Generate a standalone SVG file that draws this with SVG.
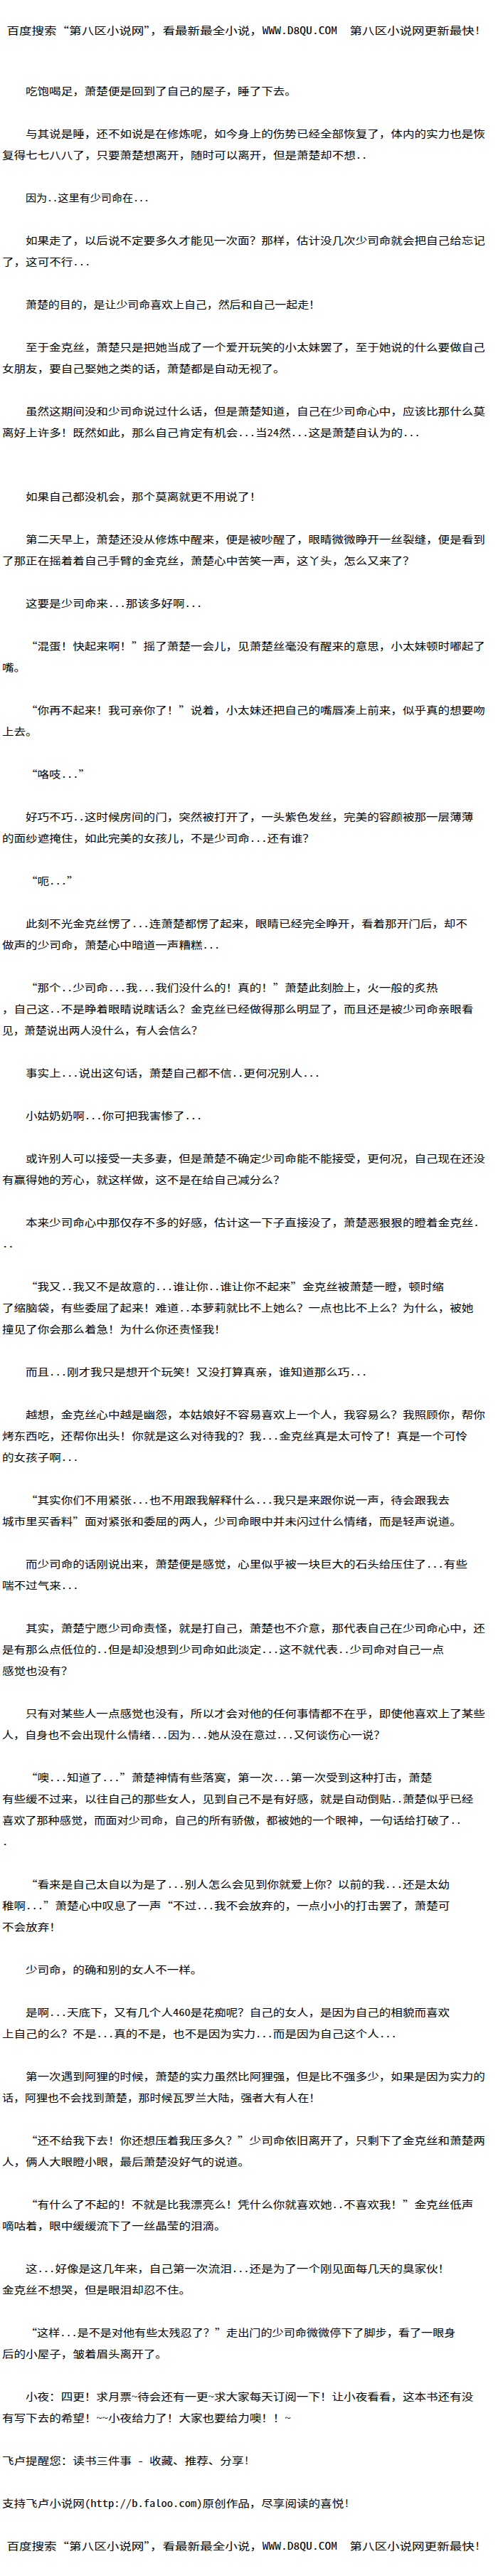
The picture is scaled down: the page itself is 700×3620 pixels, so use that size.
<svg xmlns="http://www.w3.org/2000/svg" width="700" height="3620" viewBox="0 0 700 3620">
<style>
.bg{fill:#ffffff}
.t{font-family:"Noto Sans CJK SC","Noto Sans CJK TC",sans-serif;font-size:14px;fill:#000000;white-space:pre}
.q{font-feature-settings:"fwid"}
.h{font-feature-settings:"hwid"}
</style>
<rect class="bg" x="0" y="0" width="700" height="3620"/>
<g id="header"><text class="t" x="9.5" y="48" textLength="666" lengthAdjust="spacingAndGlyphs" xml:space="preserve">百度搜索<tspan class="q">“</tspan>第八区小说网<tspan class="q">”</tspan>，看最新最全小说，<tspan class="h">WWW.D8QU.COM  </tspan>第八区小说网更新最快<tspan class="h">!</tspan></text></g>
<g id="p01"><text class="t" x="36" y="133" textLength="380.88" lengthAdjust="spacingAndGlyphs">吃饱喝足，萧楚便是回到了自己的屋子，睡了下去。</text></g>
<g id="p02">
<text class="t" x="36" y="193" textLength="645.84" lengthAdjust="spacingAndGlyphs">与其说是睡，还不如说是在修炼呢，如今身上的伤势已经全部恢复了，体内的实力也是恢</text>
<text class="t" x="3" y="223" textLength="513.36" lengthAdjust="spacingAndGlyphs">复得七七八八了，只要萧楚想离开，随时可以离开，但是萧楚却不想<tspan class="h">..</tspan></text>
</g>
<g id="p03"><text class="t" x="36" y="283" textLength="173.88" lengthAdjust="spacingAndGlyphs">因为<tspan class="h">..</tspan>这里有少司命在<tspan class="h">...</tspan></text></g>
<g id="p04">
<text class="t" x="36" y="343" textLength="645.84" lengthAdjust="spacingAndGlyphs">如果走了，以后说不定要多久才能见一次面？那样，估计没几次少司命就会把自己给忘记</text>
<text class="t" x="3" y="373" textLength="124.2" lengthAdjust="spacingAndGlyphs">了，这可不行<tspan class="h">...</tspan></text>
</g>
<g id="p05"><text class="t" x="36" y="433" textLength="414" lengthAdjust="spacingAndGlyphs">萧楚的目的，是让少司命喜欢上自己，然后和自己一起走！</text></g>
<g id="p06">
<text class="t" x="36" y="493" textLength="645.84" lengthAdjust="spacingAndGlyphs">至于金克丝，萧楚只是把她当成了一个爱开玩笑的小太妹罢了，至于她说的什么要做自己</text>
<text class="t" x="3" y="523" textLength="397.44" lengthAdjust="spacingAndGlyphs">女朋友，要自己娶她之类的话，萧楚都是自动无视了。</text>
</g>
<g id="p07">
<text class="t" x="36" y="583" textLength="645.84" lengthAdjust="spacingAndGlyphs">虽然这期间没和少司命说过什么话，但是萧楚知道，自己在少司命心中，应该比那什么莫</text>
<text class="t" x="3" y="613" textLength="587.88" lengthAdjust="spacingAndGlyphs">离好上许多！既然如此，那么自己肯定有机会<tspan class="h">...</tspan>当<tspan class="h">24</tspan>然<tspan class="h">...</tspan>这是萧楚自认为的<tspan class="h">...</tspan></text>
</g>
<g id="p08"><text class="t" x="36" y="703" textLength="331.2" lengthAdjust="spacingAndGlyphs">如果自己都没机会，那个莫离就更不用说了！</text></g>
<g id="p09">
<text class="t" x="36" y="763" textLength="645.84" lengthAdjust="spacingAndGlyphs">第二天早上，萧楚还没从修炼中醒来，便是被吵醒了，眼睛微微睁开一丝裂缝，便是看到</text>
<text class="t" x="3" y="793" textLength="579.6" lengthAdjust="spacingAndGlyphs">了那正在摇着着自己手臂的金克丝，萧楚心中苦笑一声，这丫头，怎么又来了？</text>
</g>
<g id="p10"><text class="t" x="36" y="853" textLength="248.4" lengthAdjust="spacingAndGlyphs">这要是少司命来<tspan class="h">...</tspan>那该多好啊<tspan class="h">...</tspan></text></g>
<g id="p11">
<text class="t" x="36" y="913" textLength="645.84" lengthAdjust="spacingAndGlyphs"><tspan class="q">“</tspan>混蛋！快起来啊！<tspan class="q">”</tspan>摇了萧楚一会儿，见萧楚丝毫没有醒来的意思，小太妹顿时嘟起了</text>
<text class="t" x="3" y="943" textLength="33.12" lengthAdjust="spacingAndGlyphs">嘴。</text>
</g>
<g id="p12">
<text class="t" x="36" y="1003" textLength="645.84" lengthAdjust="spacingAndGlyphs"><tspan class="q">“</tspan>你再不起来！我可亲你了！<tspan class="q">”</tspan>说着，小太妹还把自己的嘴唇凑上前来，似乎真的想要吻</text>
<text class="t" x="3" y="1033" textLength="49.68" lengthAdjust="spacingAndGlyphs">上去。</text>
</g>
<g id="p13"><text class="t" x="36" y="1093" textLength="91.08" lengthAdjust="spacingAndGlyphs"><tspan class="q">“</tspan>咯吱<tspan class="h">...</tspan><tspan class="q">”</tspan></text></g>
<g id="p14">
<text class="t" x="36" y="1153" textLength="629.28" lengthAdjust="spacingAndGlyphs">好巧不巧<tspan class="h">..</tspan>这时候房间的门，突然被打开了，一头紫色发丝，完美的容颜被那一层薄薄</text>
<text class="t" x="3" y="1183" textLength="438.84" lengthAdjust="spacingAndGlyphs">的面纱遮掩住，如此完美的女孩儿，不是少司命<tspan class="h">...</tspan>还有谁？</text>
</g>
<g id="p15"><text class="t" x="36" y="1243" textLength="74.52" lengthAdjust="spacingAndGlyphs"><tspan class="q">“</tspan>呃<tspan class="h">...</tspan><tspan class="q">”</tspan></text></g>
<g id="p16">
<text class="t" x="36" y="1303" textLength="621" lengthAdjust="spacingAndGlyphs">此刻不光金克丝愣了<tspan class="h">...</tspan>连萧楚都愣了起来，眼睛已经完全睁开，看着那开门后，却不</text>
<text class="t" x="3" y="1333" textLength="306.36" lengthAdjust="spacingAndGlyphs">做声的少司命，萧楚心中暗道一声糟糕<tspan class="h">...</tspan></text>
</g>
<g id="p17">
<text class="t" x="36" y="1393" textLength="579.6" lengthAdjust="spacingAndGlyphs"><tspan class="q">“</tspan>那个<tspan class="h">..</tspan>少司命<tspan class="h">...</tspan>我<tspan class="h">...</tspan>我们没什么的！真的！<tspan class="q">”</tspan>萧楚此刻脸上，火一般的炙热</text>
<text class="t" x="3" y="1423" textLength="662.4" lengthAdjust="spacingAndGlyphs">，自己这<tspan class="h">..</tspan>不是睁着眼睛说瞎话么？金克丝已经做得那么明显了，而且还是被少司命亲眼看</text>
<text class="t" x="3" y="1453" textLength="281.52" lengthAdjust="spacingAndGlyphs">见，萧楚说出两人没什么，有人会信么？</text>
</g>
<g id="p18"><text class="t" x="36" y="1513" textLength="414" lengthAdjust="spacingAndGlyphs">事实上<tspan class="h">...</tspan>说出这句话，萧楚自己都不信<tspan class="h">..</tspan>更何况别人<tspan class="h">...</tspan></text></g>
<g id="p19"><text class="t" x="36" y="1573" textLength="248.4" lengthAdjust="spacingAndGlyphs">小姑奶奶啊<tspan class="h">...</tspan>你可把我害惨了<tspan class="h">...</tspan></text></g>
<g id="p20">
<text class="t" x="36" y="1633" textLength="645.84" lengthAdjust="spacingAndGlyphs">或许别人可以接受一夫多妻，但是萧楚不确定少司命能不能接受，更何况，自己现在还没</text>
<text class="t" x="3" y="1663" textLength="397.44" lengthAdjust="spacingAndGlyphs">有赢得她的芳心，就这样做，这不是在给自己减分么？</text>
</g>
<g id="p21">
<text class="t" x="36" y="1723" textLength="637.56" lengthAdjust="spacingAndGlyphs">本来少司命心中那仅存不多的好感，估计这一下子直接没了，萧楚恶狠狠的瞪着金克丝<tspan class="h">.</tspan></text>
<text class="t" x="3" y="1753" textLength="16.56" lengthAdjust="spacingAndGlyphs"><tspan class="h">..</tspan></text>
</g>
<g id="p22">
<text class="t" x="36" y="1813" textLength="587.88" lengthAdjust="spacingAndGlyphs"><tspan class="q">“</tspan>我又<tspan class="h">..</tspan>我又不是故意的<tspan class="h">...</tspan>谁让你<tspan class="h">..</tspan>谁让你不起来<tspan class="q">”</tspan>金克丝被萧楚一瞪，顿时缩</text>
<text class="t" x="3" y="1843" textLength="662.4" lengthAdjust="spacingAndGlyphs">了缩脑袋，有些委屈了起来！难道<tspan class="h">..</tspan>本萝莉就比不上她么？一点也比不上么？为什么，被她</text>
<text class="t" x="3" y="1873" textLength="314.64" lengthAdjust="spacingAndGlyphs">撞见了你会那么着急！为什么你还责怪我！</text>
</g>
<g id="p23"><text class="t" x="36" y="1933" textLength="480.24" lengthAdjust="spacingAndGlyphs">而且<tspan class="h">...</tspan>刚才我只是想开个玩笑！又没打算真亲，谁知道那么巧<tspan class="h">...</tspan></text></g>
<g id="p24">
<text class="t" x="36" y="1993" textLength="645.84" lengthAdjust="spacingAndGlyphs">越想，金克丝心中越是幽怨，本姑娘好不容易喜欢上一个人，我容易么？我照顾你，帮你</text>
<text class="t" x="3" y="2023" textLength="654.12" lengthAdjust="spacingAndGlyphs">烤东西吃，还帮你出头！你就是这么对待我的？我<tspan class="h">...</tspan>金克丝真是太可怜了！真是一个可怜</text>
<text class="t" x="3" y="2053" textLength="107.64" lengthAdjust="spacingAndGlyphs">的女孩子啊<tspan class="h">...</tspan></text>
</g>
<g id="p25">
<text class="t" x="36" y="2113" textLength="596.16" lengthAdjust="spacingAndGlyphs"><tspan class="q">“</tspan>其实你们不用紧张<tspan class="h">...</tspan>也不用跟我解释什么<tspan class="h">...</tspan>我只是来跟你说一声，待会跟我去</text>
<text class="t" x="3" y="2143" textLength="645.84" lengthAdjust="spacingAndGlyphs">城市里买香料<tspan class="q">”</tspan>面对紧张和委屈的两人，少司命眼中并未闪过什么情绪，而是轻声说道。</text>
</g>
<g id="p26">
<text class="t" x="36" y="2203" textLength="621" lengthAdjust="spacingAndGlyphs">而少司命的话刚说出来，萧楚便是感觉，心里似乎被一块巨大的石头给压住了<tspan class="h">...</tspan>有些</text>
<text class="t" x="3" y="2233" textLength="107.64" lengthAdjust="spacingAndGlyphs">喘不过气来<tspan class="h">...</tspan></text>
</g>
<g id="p27">
<text class="t" x="36" y="2293" textLength="645.84" lengthAdjust="spacingAndGlyphs">其实，萧楚宁愿少司命责怪，就是打自己，萧楚也不介意，那代表自己在少司命心中，还</text>
<text class="t" x="3" y="2323" textLength="621" lengthAdjust="spacingAndGlyphs">是有那么点低位的<tspan class="h">..</tspan>但是却没想到少司命如此淡定<tspan class="h">...</tspan>这不就代表<tspan class="h">..</tspan>少司命对自己一点</text>
<text class="t" x="3" y="2353" textLength="99.36" lengthAdjust="spacingAndGlyphs">感觉也没有？</text>
</g>
<g id="p28">
<text class="t" x="36" y="2413" textLength="645.84" lengthAdjust="spacingAndGlyphs">只有对某些人一点感觉也没有，所以才会对他的任何事情都不在乎，即使他喜欢上了某些</text>
<text class="t" x="3" y="2443" textLength="538.2" lengthAdjust="spacingAndGlyphs">人，自身也不会出现什么情绪<tspan class="h">...</tspan>因为<tspan class="h">...</tspan>她从没在意过<tspan class="h">...</tspan>又何谈伤心一说？</text>
</g>
<g id="p29">
<text class="t" x="36" y="2503" textLength="571.32" lengthAdjust="spacingAndGlyphs"><tspan class="q">“</tspan>噢<tspan class="h">...</tspan>知道了<tspan class="h">...</tspan><tspan class="q">”</tspan>萧楚神情有些落寞，第一次<tspan class="h">...</tspan>第一次受到这种打击，萧楚</text>
<text class="t" x="3" y="2533" textLength="662.4" lengthAdjust="spacingAndGlyphs">有些缓不过来，以往自己的那些女人，见到自己不是有好感，就是自动倒贴<tspan class="h">..</tspan>萧楚似乎已经</text>
<text class="t" x="3" y="2563" textLength="645.84" lengthAdjust="spacingAndGlyphs">喜欢了那种感觉，而面对少司命，自己的所有骄傲，都被她的一个眼神，一句话给打破了<tspan class="h">..</tspan></text>
<text class="t" x="3" y="2593" textLength="8.28" lengthAdjust="spacingAndGlyphs"><tspan class="h">.</tspan></text>
</g>
<g id="p30">
<text class="t" x="36" y="2653" textLength="596.16" lengthAdjust="spacingAndGlyphs"><tspan class="q">“</tspan>看来是自己太自以为是了<tspan class="h">...</tspan>别人怎么会见到你就爱上你？以前的我<tspan class="h">...</tspan>还是太幼</text>
<text class="t" x="3" y="2683" textLength="629.28" lengthAdjust="spacingAndGlyphs">稚啊<tspan class="h">...</tspan><tspan class="q">”</tspan>萧楚心中叹息了一声<tspan class="q">“</tspan>不过<tspan class="h">...</tspan>我不会放弃的，一点小小的打击罢了，萧楚可</text>
<text class="t" x="3" y="2713" textLength="82.8" lengthAdjust="spacingAndGlyphs">不会放弃！</text>
</g>
<g id="p31"><text class="t" x="36" y="2773" textLength="248.4" lengthAdjust="spacingAndGlyphs">少司命，的确和别的女人不一样。</text></g>
<g id="p32">
<text class="t" x="36" y="2833" textLength="596.16" lengthAdjust="spacingAndGlyphs">是啊<tspan class="h">...</tspan>天底下，又有几个人<tspan class="h">460</tspan>是花痴呢？自己的女人，是因为自己的相貌而喜欢</text>
<text class="t" x="3" y="2863" textLength="554.76" lengthAdjust="spacingAndGlyphs">上自己的么？不是<tspan class="h">...</tspan>真的不是，也不是因为实力<tspan class="h">...</tspan>而是因为自己这个人<tspan class="h">...</tspan></text>
</g>
<g id="p33">
<text class="t" x="36" y="2923" textLength="645.84" lengthAdjust="spacingAndGlyphs">第一次遇到阿狸的时候，萧楚的实力虽然比阿狸强，但是比不强多少，如果是因为实力的</text>
<text class="t" x="3" y="2953" textLength="447.12" lengthAdjust="spacingAndGlyphs">话，阿狸也不会找到萧楚，那时候瓦罗兰大陆，强者大有人在！</text>
</g>
<g id="p34">
<text class="t" x="36" y="3013" textLength="645.84" lengthAdjust="spacingAndGlyphs"><tspan class="q">“</tspan>还不给我下去！你还想压着我压多久？<tspan class="q">”</tspan>少司命依旧离开了，只剩下了金克丝和萧楚两</text>
<text class="t" x="3" y="3043" textLength="347.76" lengthAdjust="spacingAndGlyphs">人，俩人大眼瞪小眼，最后萧楚没好气的说道。</text>
</g>
<g id="p35">
<text class="t" x="36" y="3103" textLength="629.28" lengthAdjust="spacingAndGlyphs"><tspan class="q">“</tspan>有什么了不起的！不就是比我漂亮么！凭什么你就喜欢她<tspan class="h">..</tspan>不喜欢我！<tspan class="q">”</tspan>金克丝低声</text>
<text class="t" x="3" y="3133" textLength="314.64" lengthAdjust="spacingAndGlyphs">嘀咕着，眼中缓缓流下了一丝晶莹的泪滴。</text>
</g>
<g id="p36">
<text class="t" x="36" y="3193" textLength="596.16" lengthAdjust="spacingAndGlyphs">这<tspan class="h">...</tspan>好像是这几年来，自己第一次流泪<tspan class="h">...</tspan>还是为了一个刚见面每几天的臭家伙！</text>
<text class="t" x="3" y="3223" textLength="264.96" lengthAdjust="spacingAndGlyphs">金克丝不想哭，但是眼泪却忍不住。</text>
</g>
<g id="p37">
<text class="t" x="36" y="3283" textLength="604.44" lengthAdjust="spacingAndGlyphs"><tspan class="q">“</tspan>这样<tspan class="h">...</tspan>是不是对他有些太残忍了？<tspan class="q">”</tspan>走出门的少司命微微停下了脚步，看了一眼身</text>
<text class="t" x="3" y="3313" textLength="231.84" lengthAdjust="spacingAndGlyphs">后的小屋子，皱着眉头离开了。</text>
</g>
<g id="p38">
<text class="t" x="36" y="3373" textLength="629.28" lengthAdjust="spacingAndGlyphs">小夜：四更！求月票<tspan class="h">~</tspan>待会还有一更<tspan class="h">~</tspan>求大家每天订阅一下！让小夜看看，这本书还有没</text>
<text class="t" x="3" y="3403" textLength="405.72" lengthAdjust="spacingAndGlyphs">有写下去的希望！<tspan class="h">~~</tspan>小夜给力了！大家也要给力噢！！<tspan class="h">~</tspan></text>
</g>
<g id="p39"><text class="t" x="3" y="3463" textLength="347.76" lengthAdjust="spacingAndGlyphs" xml:space="preserve">飞卢提醒您：读书三件事<tspan class="h"> - </tspan>收藏、推荐、分享<tspan class="h">!</tspan></text></g>
<g id="p40"><text class="t" x="3" y="3523" textLength="488.52" lengthAdjust="spacingAndGlyphs">支持飞卢小说网<tspan class="h">(http://b.faloo.com)</tspan>原创作品，尽享阅读的喜悦<tspan class="h">!</tspan></text></g>
<g id="footer"><text class="t" x="9.5" y="3583" textLength="666" lengthAdjust="spacingAndGlyphs" xml:space="preserve">百度搜索<tspan class="q">“</tspan>第八区小说网<tspan class="q">”</tspan>，看最新最全小说，<tspan class="h">WWW.D8QU.COM  </tspan>第八区小说网更新最快<tspan class="h">!</tspan></text></g>
<g id="connectors"/>
</svg>
